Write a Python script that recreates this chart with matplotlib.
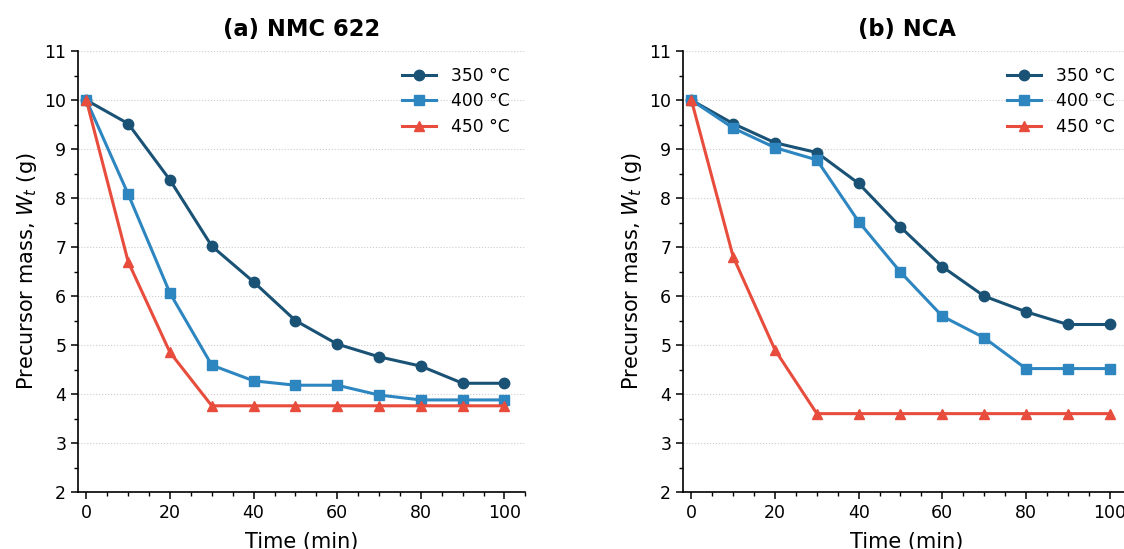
import matplotlib
matplotlib.use("Agg")
import matplotlib.pyplot as plt
from matplotlib.ticker import MultipleLocator

time = [0, 10, 20, 30, 40, 50, 60, 70, 80, 90, 100]
labels = ["350 °C", "400 °C", "450 °C"]

nmc_350 = [10, 9.52, 8.37, 7.02, 6.29, 5.5, 5.02, 4.76, 4.57, 4.22, 4.22]
nmc_400 = [10, 8.08, 6.06, 4.59, 4.27, 4.18, 4.18, 3.98, 3.88, 3.88, 3.88]
nmc_450 = [10, 6.7, 4.85, 3.76, 3.76, 3.76, 3.76, 3.76, 3.76, 3.76, 3.76]

nca_350 = [10, 9.52, 9.13, 8.93, 8.3, 7.41, 6.6, 6.0, 5.68, 5.42, 5.42]
nca_400 = [10, 9.43, 9.03, 8.78, 7.52, 6.49, 5.59, 5.15, 4.52, 4.52, 4.52]
nca_450 = [10, 6.8, 4.9, 3.6, 3.6, 3.6, 3.6, 3.6, 3.6, 3.6, 3.6]

colors = ["#1a5276", "#2e86c1", "#e74c3c"]
markers = ["o", "s", "^"]

fig = plt.figure(figsize=(11.24, 5.49), dpi=100)
ax1 = fig.add_axes([0.0694, 0.1038, 0.398, 0.803])
ax2 = fig.add_axes([0.6077, 0.1038, 0.398, 0.803])

panels = [
    (ax1, "(a) NMC 622", [nmc_350, nmc_400, nmc_450]),
    (ax2, "(b) NCA", [nca_350, nca_400, nca_450]),
]

for ax, title, series in panels:
    for vals, lab, c, m in zip(series, labels, colors, markers):
        ax.plot(time, vals, color=c, marker=m, lw=2.2, ms=7.5, label=lab)
    ax.set_title(title, fontsize=16.3, fontweight="bold", pad=11)
    ax.set_xlabel("Time (min)", fontsize=15, labelpad=7)
    ax.set_ylabel("Precursor mass, $W_t$ (g)", fontsize=15)
    ax.set_xlim(-2, 105)
    ax.set_ylim(2, 11)
    ax.xaxis.set_major_locator(MultipleLocator(20))
    ax.xaxis.set_minor_locator(MultipleLocator(5))
    ax.yaxis.set_major_locator(MultipleLocator(1))
    ax.yaxis.set_minor_locator(MultipleLocator(0.5))
    ax.tick_params(labelsize=12.5, length=5, width=1.1)
    ax.tick_params(which="minor", length=3, width=1)
    ax.grid(axis="y", linestyle=":", color="#cccccc", lw=0.8)
    ax.spines["top"].set_visible(False)
    ax.spines["right"].set_visible(False)
    ax.spines["left"].set_linewidth(1.2)
    ax.spines["bottom"].set_linewidth(1.2)
    ax.legend(frameon=False, fontsize=12.3, loc="upper right",
              handletextpad=0.9, labelspacing=0.45)

fig.savefig("out.png", dpi=100)
